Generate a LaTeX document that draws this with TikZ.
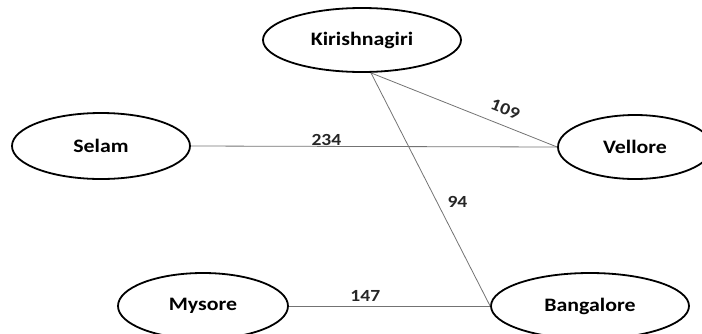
\documentclass[tikz,border=0pt]{standalone}
\usepackage{fontspec}
\setmainfont{Carlito}[FakeStretch=1.15]
\usetikzlibrary{shapes.geometric}
\tikzset{
  city/.style={ellipse, draw=black, line width=1.8pt, inner sep=0pt,
    font=\fontsize{19}{19}\selectfont\bfseries},
  road/.style={draw=black!55, line width=0.8pt},
  dist/.style={font=\fontsize{17}{17}\selectfont\bfseries, text=black!85}
}
\begin{document}
\begin{tikzpicture}[x=1pt,y=-1pt]
\useasboundingbox (0,0) rectangle (702,333);
\node[city, minimum width=198pt, minimum height=64pt] (k) at (362,40) {Kirishnagiri};
\node[city, minimum width=178pt, minimum height=66pt] (s) at (101,146) {Selam};
\node[city, minimum width=154pt, minimum height=64pt] (v) at (635,147) {Vellore};
\node[city, minimum width=170pt, minimum height=66pt] (m) at (203,306) {Mysore};
\node[city, minimum width=198pt, minimum height=66pt] (b) at (590,306) {Bangalore};
\coordinate (kj) at ([xshift=9pt]k.south);
\draw[road] (kj) -- node[dist, pos=0.69, sloped, anchor=south, inner sep=10pt] {109} (v.west);
\draw[road] (s.east) -- node[dist, pos=0.37, anchor=south, inner sep=0.5pt] {234} (v.west);
\draw[road] (kj) -- node[dist, pos=0.555, anchor=west, inner sep=10pt] {94} (b.west);
\draw[road] (m.east) -- node[dist, pos=0.38, anchor=south, inner sep=4pt] {147} (b.west);
\end{tikzpicture}
\end{document}
